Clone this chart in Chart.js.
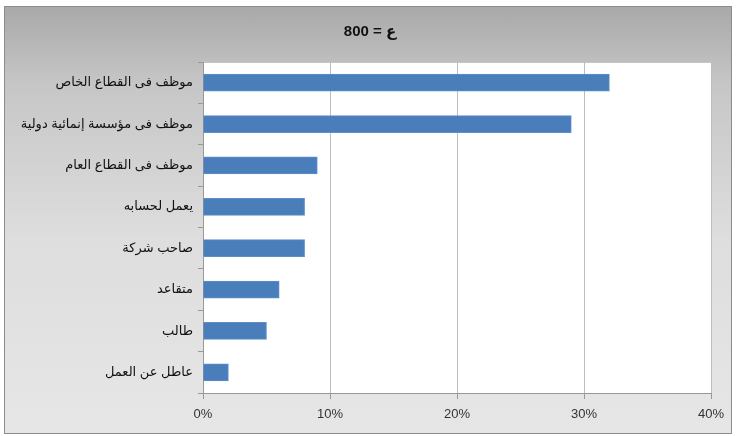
<!DOCTYPE html>
<html>
<head>
<meta charset="utf-8">
<script src="https://cdn.jsdelivr.net/npm/chart.js@4"></script>
<style>
  body { margin: 0; background: #fff; }
  #frame {
    position: absolute; left: 4px; top: 6px;
    width: 726px; height: 426px;
    border: 1px solid #8c8c8c;
    background: linear-gradient(to bottom, #a9a9a9 0%, #c6c6c6 18%, #dedede 55%, #e6e6e6 100%);
  }
  canvas { display: block; }
</style>
</head>
<body>
<div id="frame"><canvas id="chart" width="726" height="426"></canvas></div>
<script>
const chartTitle = 'ع = 800';
const categories = [
  'موظف فى القطاع الخاص',
  'موظف فى مؤسسة إنمائية دولية',
  'موظف فى القطاع العام',
  'يعمل لحسابه',
  'صاحب شركة',
  'متقاعد',
  'طالب',
  'عاطل عن العمل'
];
const percentages = [32, 29, 9, 8, 8, 6, 5, 2];
const xMin = 0, xMax = 40, xStep = 10;

const labelFont = "Arial, 'Liberation Sans', 'DejaVu Sans', sans-serif";

// white plot area + thin border on top, title in rtl
const plotBg = {
  id: 'plotBg',
  beforeDraw(chart) {
    const { ctx, chartArea: a } = chart;
    ctx.save();
    ctx.fillStyle = '#ffffff';
    ctx.fillRect(a.left, a.top, a.right - a.left, a.bottom - a.top);
    ctx.strokeStyle = '#c4c4c4';
    ctx.lineWidth = 1;
    ctx.beginPath();
    ctx.moveTo(a.left, a.top + 0.5);
    ctx.lineTo(a.right, a.top + 0.5);
    ctx.stroke();
    ctx.restore();
  },
  afterDraw(chart) {
    const ctx = chart.ctx;
    ctx.save();
    ctx.direction = 'rtl';
    ctx.font = "bold 15px " + labelFont;
    ctx.fillStyle = '#111';
    ctx.textAlign = 'center';
    ctx.textBaseline = 'middle';
    ctx.fillText(chartTitle, 365, 25);
    ctx.restore();
  }
};

const ctx = document.getElementById('chart').getContext('2d');
new Chart(ctx, {
  type: 'bar',
  data: {
    labels: categories,
    datasets: [{
      data: percentages,
      backgroundColor: '#4a7ebb',
      borderColor: '#5e8fc9',
      borderWidth: 1,
      barThickness: 17
    }]
  },
  options: {
    indexAxis: 'y',
    responsive: false,
    animation: false,
    layout: { padding: { top: 55, right: 20, left: 0, bottom: 0 } },
    plugins: {
      legend: { display: false },
      title: { display: false },
      tooltip: { enabled: false }
    },
    scales: {
      x: {
        min: xMin,
        max: xMax,
        ticks: {
          stepSize: xStep,
          color: '#333',
          font: { family: labelFont, size: 13 },
          padding: 8,
          callback: v => v + '%'
        },
        grid: { color: '#bdbdbd', tickLength: 6, tickColor: '#999' },
        border: { color: '#999' },
        afterFit(scale) {
          scale.height = 40;
          scale.paddingLeft = 0;
          scale.paddingRight = 0;
        }
      },
      y: {
        ticks: {
          color: '#111',
          font: { family: labelFont, size: 13 },
          padding: 5
        },
        grid: { drawOnChartArea: false, tickLength: 5, color: '#999' },
        border: { color: '#999' },
        afterFit(scale) { scale.width = 198; }
      }
    }
  },
  plugins: [plotBg]
});
</script>
</body>
</html>
